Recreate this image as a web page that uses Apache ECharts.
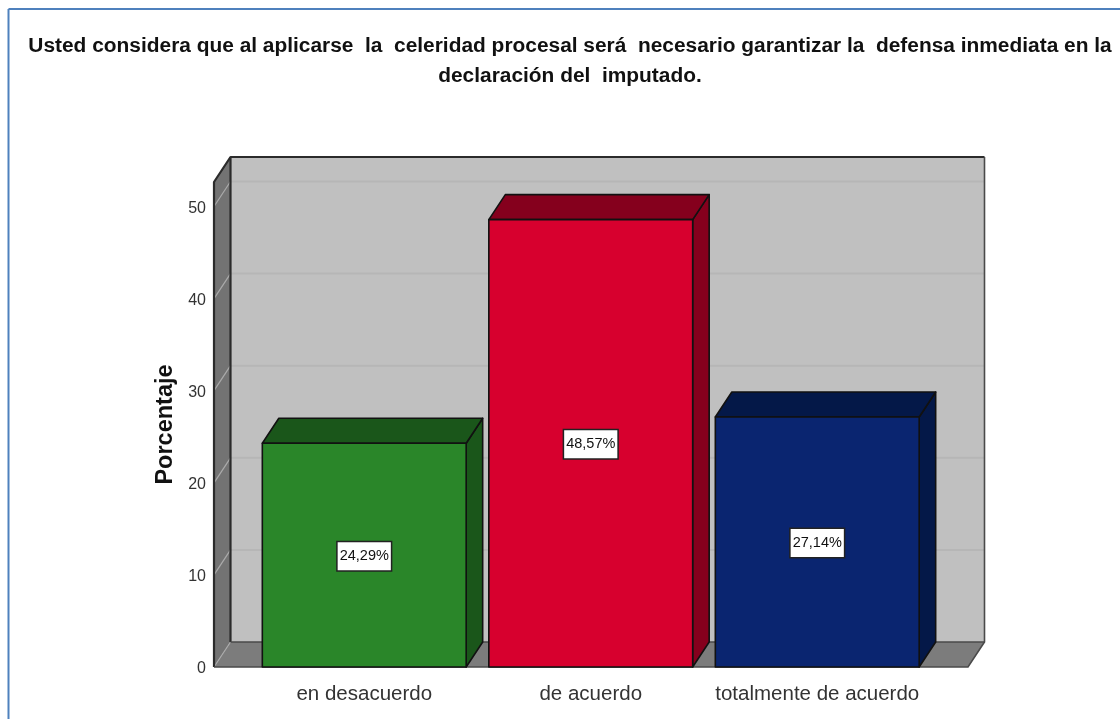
<!DOCTYPE html>
<html><head><meta charset="utf-8">
<style>html,body{margin:0;padding:0;background:#fff}#c{width:1120px;height:719px}</style>
<script src="https://cdn.jsdelivr.net/npm/echarts@6/dist/echarts.min.js"></script>
</head><body><div id="c"></div>
<script>
const titleLines = ["Usted considera que al aplicarse  la  celeridad procesal será  necesario garantizar la  defensa inmediata en la", "declaración del  imputado."];
const categories = ["en desacuerdo", "de acuerdo", "totalmente de acuerdo"];
const values = [24.29, 48.57, 27.14];
const faceColors = ["#2A8629", "#D7002E", "#0A2570"];
const sideColors = ["#1A561A", "#85001D", "#041848"];
const yTicks = [0, 10, 20, 30, 40, 50];
const yTop = 52.66;
const DX = 16.5, DY = -25, PAD_L = 37, PAD_R = 37.5;
const edge = "#2b2b2b";

const chart = echarts.init(document.getElementById('c'), null, {renderer: 'canvas'});

function renderWalls(params, api) {
  const g = params.coordSys;
  const l = g.x - PAD_L, r = g.x + g.width + PAD_R, t = g.y, b = g.y + g.height;
  const ch = [
    {type:'polygon', shape:{points:[[l+DX,t+DY],[r+DX,t+DY],[r+DX,b+DY],[l+DX,b+DY]]}, style:{fill:'#C0C0C0', stroke:'none'}},
    {type:'polygon', shape:{points:[[l,b],[l,t],[l+DX,t+DY],[l+DX,b+DY]]}, style:{fill:'#737373', stroke:'none'}},
    {type:'polygon', shape:{points:[[l,b],[l+DX,b+DY],[r+DX,b+DY],[r,b]]}, style:{fill:'#7C7C7C', stroke:'none'}}
  ];
  yTicks.forEach(v => {
    const y = api.coord([0, v])[1];
    ch.push({type:'line', shape:{x1:l,y1:y,x2:l+DX,y2:y+DY}, style:{stroke:'#ABABAB', lineWidth:1.2}});
    if (v !== 0) ch.push({type:'line', shape:{x1:l+DX,y1:y+DY,x2:r+DX,y2:y+DY}, style:{stroke:'#B6B6B6', lineWidth:2}});
  });
  // structural edges of the box
  const dark = {stroke:edge, lineWidth:2.2, lineJoin:'round'};
  const mid = {stroke:'#4a4a4a', lineWidth:1.6};
  ch.push({type:'polyline', shape:{points:[[l,b],[l,t],[l+DX,t+DY],[r+DX,t+DY]]}, style:Object.assign({fill:'none'}, dark)});
  ch.push({type:'line', shape:{x1:l+DX,y1:t+DY,x2:l+DX,y2:b+DY}, style:dark});
  ch.push({type:'polyline', shape:{points:[[r+DX,t+DY],[r+DX,b+DY],[r,b],[l,b]]}, style:Object.assign({fill:'none'}, mid)});
  ch.push({type:'line', shape:{x1:l+DX,y1:b+DY,x2:r+DX,y2:b+DY}, style:mid});
  return {type:'group', children: ch};
}

function renderBar(params, api) {
  const i = api.value(0), v = api.value(1);
  const top = api.coord([i, v]), base = api.coord([i, 0]);
  const w = api.size([1, 0])[0] * 0.9;
  const x0 = top[0] - w / 2, x1 = top[0] + w / 2, yt = top[1], yb = base[1];
  const st = {stroke:'#111', lineWidth:1.6, lineJoin:'round'};
  const mid = api.coord([i, v / 2]);
  return {type:'group', children:[
    {type:'polygon', shape:{points:[[x1,yb],[x1+DX,yb+DY],[x1+DX,yt+DY],[x1,yt]]}, style:Object.assign({fill:sideColors[i]}, st)},
    {type:'polygon', shape:{points:[[x0,yt],[x0+DX,yt+DY],[x1+DX,yt+DY],[x1,yt]]}, style:Object.assign({fill:sideColors[i]}, st)},
    {type:'polygon', shape:{points:[[x0,yt],[x1,yt],[x1,yb],[x0,yb]]}, style:Object.assign({fill:faceColors[i]}, st)},
    {type:'text', style:{x:mid[0], y:mid[1]+1, text:v.toFixed(2).replace('.', ',') + '%', align:'center', verticalAlign:'middle',
      font:'14.5px "Liberation Sans",sans-serif', fill:'#111', backgroundColor:'#fff', borderColor:'#222', borderWidth:1.5, padding:[7,2,6,2]}}
  ]};
}

chart.setOption({
  animation:false,
  backgroundColor:'#fff',
  title:{show:false},
  graphic:[
    {type:'line', silent:true, shape:{x1:8.5,y1:9,x2:1120,y2:9}, style:{stroke:'#4F81BD', lineWidth:2}},
    {type:'line', silent:true, shape:{x1:8.5,y1:9,x2:8.5,y2:719}, style:{stroke:'#4F81BD', lineWidth:2}},
    {type:'text', silent:true, style:{x:570, y:31, text:titleLines.join('\n'), align:'center', verticalAlign:'top', lineHeight:30,
      font:'bold 20.9px "Liberation Sans",Arial,sans-serif', fill:'#111'}}
  ],
  grid:{left:251, right:189.5, top:182, bottom:52},
  xAxis:{type:'category', data:categories, axisLine:{show:false}, axisTick:{show:false},
    axisLabel:{color:'#333', fontSize:20.5, margin:17, interval:0, fontFamily:'"Liberation Sans",sans-serif'}},
  yAxis:{type:'value', min:0, max:yTop, interval:10, offset:PAD_L, splitLine:{show:false}, axisLine:{show:false}, axisTick:{show:false},
    axisLabel:{color:'#333', fontSize:16, margin:8, showMaxLabel:false, fontFamily:'"Liberation Sans",sans-serif',
      formatter:v => yTicks.includes(v) ? '{t|' + v + '}' : '',
      rich:{t:{color:'#333', fontSize:16, fontFamily:'"Liberation Sans",sans-serif', padding:[4,0,0,0]}}},
    name:'Porcentaje', nameLocation:'middle', nameGap:36, nameRotate:90,
    nameTextStyle:{color:'#111', fontSize:23.5, fontWeight:'bold', fontFamily:'"Liberation Sans",sans-serif'}},
  series:[
    {type:'custom', silent:true, z:1, renderItem:renderWalls, data:[[0,0]], encode:{x:0,y:1}, clip:false},
    {type:'custom', silent:true, z:2, renderItem:renderBar, data:values.map((v,i)=>[i,v]), encode:{x:0,y:1}, clip:false}
  ]
});
</script></body></html>
